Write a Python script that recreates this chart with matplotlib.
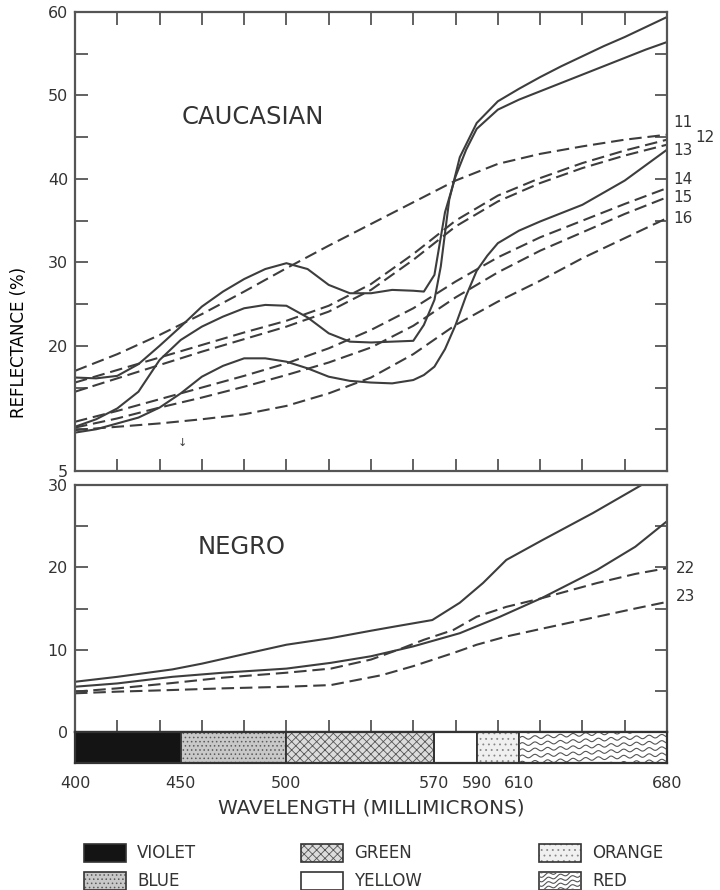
import numpy as np
import matplotlib.pyplot as plt
from matplotlib.patches import Rectangle

# data ################
# Caucasian, solid curves
cau_a_x = [400, 410, 420, 430, 440, 450, 460, 470, 480, 490, 500, 510, 520, 530, 540, 550, 560, 565, 570, 575, 580, 585, 590, 600, 610, 620, 630, 640, 650, 660, 670, 680]
cau_a_y = [16.2, 16.1, 16.4, 17.8, 20.0, 22.3, 24.7, 26.5, 28.0, 29.2, 29.9, 29.2, 27.3, 26.3, 26.3, 26.7, 26.6, 26.5, 28.5, 36.0, 40.3, 43.5, 46.0, 48.3, 49.5, 50.5, 51.5, 52.5, 53.5, 54.5, 55.5, 56.4]
cau_b_x = [400, 410, 420, 430, 440, 450, 460, 470, 480, 490, 500, 510, 520, 530, 540, 550, 560, 565, 570, 573, 577, 582, 590, 600, 610, 620, 630, 640, 650, 660, 670, 680]
cau_b_y = [10.3, 11.2, 12.5, 14.5, 18.3, 20.7, 22.3, 23.5, 24.5, 24.9, 24.8, 23.4, 21.5, 20.5, 20.4, 20.5, 20.6, 22.5, 25.5, 29.5, 37.5, 42.6, 46.7, 49.3, 50.8, 52.2, 53.5, 54.7, 55.9, 57.0, 58.2, 59.4]
cau_c_x = [400, 410, 420, 430, 440, 450, 460, 470, 480, 490, 500, 510, 520, 530, 540, 550, 560, 565, 570, 575, 580, 585, 590, 595, 600, 610, 620, 640, 660, 680]
cau_c_y = [9.6, 10.0, 10.7, 11.4, 12.6, 14.3, 16.3, 17.6, 18.5, 18.5, 18.1, 17.3, 16.3, 15.8, 15.6, 15.5, 15.9, 16.5, 17.5, 19.6, 22.5, 26.0, 29.0, 30.8, 32.3, 33.8, 34.9, 36.9, 39.8, 43.5]

# Caucasian, dashed curves
dash_x = [400, 420, 440, 460, 480, 500, 520, 540, 560, 580, 600, 620, 640, 660, 680]
cau_d1 = [17.0, 19.0, 21.3, 23.8, 26.5, 29.3, 32.0, 34.6, 37.2, 39.8, 41.8, 43.0, 43.9, 44.7, 45.3]
cau_d2 = [15.6, 17.1, 18.6, 20.1, 21.6, 23.0, 24.8, 27.4, 31.0, 35.0, 38.0, 40.1, 41.9, 43.4, 44.7]
cau_d3 = [14.5, 16.1, 17.7, 19.3, 20.8, 22.3, 24.1, 26.7, 30.3, 34.3, 37.3, 39.5, 41.3, 42.8, 44.1]
cau_d4 = [10.9, 12.2, 13.6, 15.0, 16.4, 17.9, 19.7, 21.9, 24.5, 27.7, 30.6, 33.0, 35.0, 37.0, 38.9]
cau_d5 = [10.2, 11.3, 12.6, 13.8, 15.1, 16.5, 18.0, 19.8, 22.4, 25.8, 28.8, 31.4, 33.6, 35.8, 37.8]
cau_d6 = [9.9, 10.3, 10.7, 11.2, 11.8, 12.8, 14.3, 16.2, 19.0, 22.5, 25.3, 27.8, 30.5, 32.9, 35.3]

cau_labels = ["11", "12", "13", "14", "15", "16"]
cau_label_y = [46.7, 45.0, 43.4, 39.9, 37.8, 35.2]

# Negro
neg1_x = [400, 420, 446, 460, 479, 500, 521, 540, 551, 569, 582, 593, 604, 621, 645, 670]
neg1_y = [6.1, 6.7, 7.6, 8.3, 9.4, 10.6, 11.4, 12.3, 12.8, 13.6, 15.7, 18.1, 20.9, 23.3, 26.6, 30.3]
neg2_x = [400, 420, 446, 470, 500, 521, 540, 560, 582, 601, 621, 647, 665, 680]
neg2_y = [5.5, 5.9, 6.7, 7.2, 7.7, 8.4, 9.2, 10.4, 12.0, 14.0, 16.3, 19.7, 22.5, 25.6]
neg3_x = [400, 420, 446, 470, 500, 521, 540, 553, 565, 579, 590, 604, 620, 647, 665, 680]
neg3_y = [4.9, 5.3, 5.95, 6.6, 7.2, 7.7, 8.8, 10.0, 11.2, 12.4, 14.0, 15.2, 16.2, 18.1, 19.2, 19.9]
neg4_x = [400, 420, 446, 470, 500, 521, 545, 560, 579, 590, 604, 620, 647, 665, 680]
neg4_y = [4.7, 4.9, 5.1, 5.3, 5.5, 5.7, 6.9, 8.0, 9.6, 10.6, 11.6, 12.5, 14.0, 15.0, 15.8]

neg_labels = ["22", "23"]
neg_label_y = [19.9, 16.4]

# spectrum band
band_edges = [400, 450, 500, 570, 590, 610, 680]
band_names = ["VIOLET", "BLUE", "GREEN", "YELLOW", "ORANGE", "RED"]
#######################

INK = "#3d3d3d"
AXC = "#555555"
W, H = 720, 890

plt.rcParams["font.family"] = ["DejaVu Sans"]
plt.rcParams["hatch.linewidth"] = 0.6
plt.rcParams["text.color"] = "#333333"

fig = plt.figure(figsize=(W / 100, H / 100), dpi=100)


def px_axes(x0, y0, x1, y1):
    return fig.add_axes([x0 / W, 1 - y1 / H, (x1 - x0) / W, (y1 - y0) / H])


ax1 = px_axes(75, 12, 667, 471)
ax2 = px_axes(75, 485, 667, 732)
ax3 = px_axes(75, 732, 667, 763)

line_kw = dict(color=INK, linewidth=1.5)
dash_kw = dict(color=INK, linewidth=1.5, dashes=(6, 2.8))


def style_axes(ax):
    for sp in ax.spines.values():
        sp.set_color(AXC)
        sp.set_linewidth(1.6)
    ax.tick_params(direction="in", length=9, width=1.3, color=AXC,
                   labelsize=11.5, labelcolor="#333333", pad=5)


# top panel ##########
for xs, ys in [(cau_a_x, cau_a_y), (cau_b_x, cau_b_y), (cau_c_x, cau_c_y)]:
    ax1.plot(xs, ys, **line_kw)
for ys in [cau_d1, cau_d2, cau_d3, cau_d4, cau_d5, cau_d6]:
    ax1.plot(dash_x, ys, **dash_kw)

ax1.set_xlim(400, 680)
ax1.set_ylim(5, 60)
style_axes(ax1)
ax1.set_xticks(range(420, 680, 20))
ax1.tick_params(axis="x", top=True, bottom=True, labelbottom=False)
ax1.set_yticks(range(5, 65, 5))
ax1.set_yticklabels(["5", "", "", "20", "", "30", "", "40", "", "50", "", "60"])
ax1.tick_params(axis="y", left=True, right=True)
ax1.text(450.5, 47.4, "CAUCASIAN", fontsize=17.5, ha="left", va="center")
ax1.text(451, 8.3, "\u2193", fontsize=8, ha="center", va="center", color=INK)

for lab, yv in zip(cau_labels, cau_label_y):
    xx = 693.5 if lab == "12" else 683
    ax1.text(xx, yv, lab, fontsize=11, ha="left", va="center", clip_on=False)
ax1.set_ylabel("REFLECTANCE (%)", fontsize=12)
ax1.yaxis.set_label_coords(-0.08, 0.28)

# bottom panel #######
ax2.plot(neg1_x, neg1_y, **line_kw)
ax2.plot(neg2_x, neg2_y, **line_kw)
ax2.plot(neg3_x, neg3_y, **dash_kw)
ax2.plot(neg4_x, neg4_y, **dash_kw)

ax2.set_xlim(400, 680)
ax2.set_ylim(0, 30)
style_axes(ax2)
ax2.set_xticks(range(420, 680, 20))
ax2.tick_params(axis="x", bottom=True, top=False, labelbottom=False)
ax2.set_yticks(range(0, 35, 5))
ax2.set_yticklabels(["0", "", "10", "", "20", "", "30"])
ax2.tick_params(axis="y", left=True, right=True)
ax2.text(458, 22.5, "NEGRO", fontsize=17.5, ha="left", va="center")
for lab, yv in zip(neg_labels, neg_label_y):
    ax2.text(684, yv, lab, fontsize=11, ha="left", va="center", clip_on=False)


# spectrum band ######
def wavy_fill(ax, rect, x0, x1, y0, y1, nrows, period, amp, tilt):
    xs = np.linspace(x0 - period, x1 + period, 200)
    step = (y1 - y0) / nrows
    for k in range(-3, nrows + 3):
        base = y0 + k * step
        ys = base + tilt * (xs - x0) + amp * np.sin(2 * np.pi * (xs - x0) / period)
        ln, = ax.plot(xs, ys, color="#555555", linewidth=0.8)
        ln.set_clip_path(rect)


def band_patch(ax, name, x0, x1, y0, y1):
    if name == "VIOLET":
        ax.add_patch(Rectangle((x0, y0), x1 - x0, y1 - y0, facecolor="#141414", edgecolor="none"))
    elif name == "BLUE":
        ax.add_patch(Rectangle((x0, y0), x1 - x0, y1 - y0, facecolor="#c8c8c8", edgecolor="#5a5a5a",
                               hatch="....", linewidth=0))
    elif name == "GREEN":
        ax.add_patch(Rectangle((x0, y0), x1 - x0, y1 - y0, facecolor="#dcdcdc", edgecolor="#555555",
                               hatch="xxxx", linewidth=0))
    elif name == "ORANGE":
        ax.add_patch(Rectangle((x0, y0), x1 - x0, y1 - y0, facecolor="#f0f0f0", edgecolor="#888888",
                               hatch="...", linewidth=0))
    elif name == "RED":
        r = Rectangle((x0, y0), x1 - x0, y1 - y0, facecolor="white", edgecolor="none")
        ax.add_patch(r)
        return r
    return None


for i, name in enumerate(band_names):
    x0, x1 = band_edges[i], band_edges[i + 1]
    r = band_patch(ax3, name, x0, x1, 0, 1)
    if r is not None:
        wavy_fill(ax3, r, x0, x1, 0, 1, 5, 6.0, 0.05, 0.004)
    ax3.add_patch(Rectangle((x0, 0), x1 - x0, 1, fill=False, edgecolor="#333333", linewidth=1.3))

ax3.set_xlim(400, 680)
ax3.set_ylim(0, 1)
for sp in ax3.spines.values():
    sp.set_color("#333333")
    sp.set_linewidth(1.6)
ax3.set_yticks([])
ax3.set_xticks(band_edges)
ax3.tick_params(axis="x", length=0, labelsize=11.5, pad=9, labelcolor="#333333")
fig.text(371 / W, 1 - 808 / H, "WAVELENGTH (MILLIMICRONS)", fontsize=14.4, ha="center", va="center")

# legend ##############
lg = fig.add_axes([0, 0, 1, 1])
lg.set_xlim(0, W)
lg.set_ylim(H, 0)
lg.axis("off")
lg.patch.set_alpha(0)
col_x = [84, 301, 539]
row_y = [853, 881]
for i, name in enumerate(band_names):
    cx = col_x[i // 2]
    cy = row_y[i % 2]
    x0, x1 = cx, cx + 42
    y0, y1 = cy - 9, cy + 9
    r = band_patch(lg, name, x0, x1, y0, y1)
    if r is not None:
        wavy_fill(lg, r, x0, x1, y0, y1, 4, 12, 1.5, -0.25)
    lg.add_patch(Rectangle((x0, y0), x1 - x0, y1 - y0, fill=False, edgecolor="#333333", linewidth=1.2))
    lg.text(cx + 53, cy, name, fontsize=12, ha="left", va="center")

fig.savefig("out.png", dpi=100)
